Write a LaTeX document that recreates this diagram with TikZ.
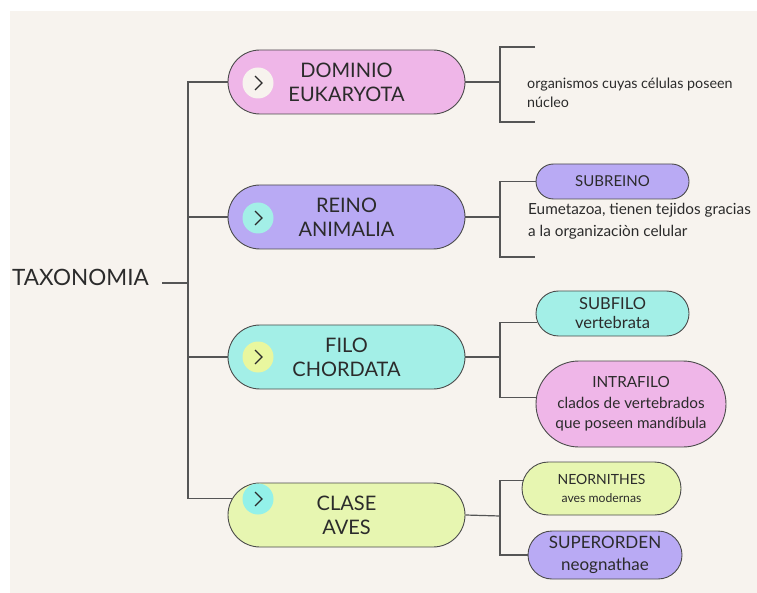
\documentclass[tikz,border=0pt]{standalone}
\usepackage{fontspec}
\setmainfont{Lato}
\usetikzlibrary{shapes.misc}
\definecolor{paper}{HTML}{F7F3EE}
\definecolor{pinkfill}{HTML}{EFB6E8}
\definecolor{lilac}{HTML}{B9AAF4}
\definecolor{aqua}{HTML}{A3EFE7}
\definecolor{lime}{HTML}{E7F6B1}
\definecolor{ink}{HTML}{2B2B2B}
\definecolor{linegray}{HTML}{555555}

\begin{document}
\begin{tikzpicture}[x=1pt,y=-1pt,
	pill/.style={rounded rectangle, draw=ink!85, line width=0.9pt, inner sep=0pt, align=center, text=ink},
	rank/.style={pill, minimum width=237pt, minimum height=64pt, font=\fontsize{20}{24}\selectfont},
	knob/.style={circle, minimum size=31pt, inner sep=0pt},
	chev/.style={draw=ink, line width=1.1pt, line join=miter},
	wire/.style={draw=linegray, line width=1.2pt},
	note/.style={anchor=west, align=left, text=ink, inner sep=0pt}]
		\useasboundingbox (0,0) rectangle (757,593);
		\fill[white] (0,0) rectangle (757,593);
		\fill[paper] (10,11) rectangle (757,593);
		% main ranks
		\node[font=\fontsize{22.5}{26}\selectfont, text=ink, anchor=west, inner sep=0pt] (taxon) at (12,277) {TAXONOMIA};
		\node[rank, fill=pinkfill] (dominio) at (346.5,82) {DOMINIO\\EUKARYOTA};
		\node[rank, fill=lilac] (reino) at (346.5,217) {REINO\\ANIMALIA};
		\node[rank, fill=aqua] (filo) at (346.5,357) {FILO\\CHORDATA};
		\node[rank, fill=lime] (clase) at (346.5,515) {CLASE\\AVES};
		\node[knob, fill=paper] (k1) at (258,83) {};
		\node[knob, fill=aqua] (k2) at (258,218) {};
		\node[knob, fill=lime!90!yellow] (k3) at (258,357) {};
		\node[knob, fill=aqua!90!cyan] (k4) at (258,499) {};
		\foreach \k in {k1,k2,k3,k4}
			\draw[chev] ([shift={(-3,-7)}]\k.center) -- ([shift={(4,0)}]\k.center) -- ([shift={(-3,7)}]\k.center);
		% spine
		\coordinate (stub) at (162,283);
		\coordinate (spine) at (188,283);
		\draw[wire] (stub) -- (spine);
		\draw[wire] (dominio.west) -- (dominio.west -| spine) -- (clase.172 -| spine) -- (clase.172);
		\draw[wire] (reino.west -| spine) -- (reino.west);
		\draw[wire] (filo.west -| spine) -- (filo.west);
		% dominio
		\coordinate (dspine) at (500,82);
		\coordinate (dhead) at (535,47);
		\coordinate (dfoot) at (535,122);
		\draw[wire] (dominio.east) -- (dspine);
		\draw[wire] (dhead) -- (dhead -| dspine) -- (dfoot -| dspine) -- (dfoot);
		\node[note, font=\fontsize{14.3}{19}\selectfont] (dnote) at (527,92.5) {organismos cuyas células poseen\\núcleo};
		% reino
		\node[pill, fill=lilac, minimum width=153pt, minimum height=35pt, font=\fontsize{15}{19}\selectfont] (subreino) at (612.5,181.5) {SUBREINO};
		\coordinate (rspine) at (500,217);
		\coordinate (rfoot) at (535,257);
		\draw[wire] (reino.east) -- (rspine);
		\draw[wire] (subreino.west) -- (subreino.west -| rspine) -- (rfoot -| rspine) -- (rfoot);
		\node[note, font=\fontsize{15.3}{22}\selectfont] (rnote) at (528,221) {Eumetazoa, tienen tejidos gracias\\a la organizaciòn celular};
		% filo
		\node[pill, fill=aqua, minimum width=153pt, minimum height=45pt, font=\fontsize{16.5}{19}\selectfont] (subfilo) at (612.5,313.5) {SUBFILO\\vertebrata};
		\node[pill, fill=pinkfill, minimum width=190pt, minimum height=86pt, font=\fontsize{15.3}{20.5}\selectfont] (intrafilo) at (631,404) {INTRAFILO\\clados de vertebrados\\que poseen mandíbula};
		\coordinate (fspine) at (500,357);
		\draw[wire] (filo.east) -- (fspine);
		\draw[wire] (subfilo.187) -- (subfilo.187 -| fspine) -- (intrafilo.176 -| fspine) -- (intrafilo.176);
		% clase
		\node[pill, fill=lime, minimum width=159pt, minimum height=53pt, font=\fontsize{14}{18}\selectfont] (neornithes) at (601.5,488.5) {NEORNITHES\\{\fontsize{12.2}{18}\selectfont aves modernas}};
		\node[pill, fill=lilac, minimum width=154pt, minimum height=48pt, font=\fontsize{17}{22}\selectfont] (superorden) at (605,555) {SUPERORDEN\\neognathae};
		\coordinate (cspine) at (500,516);
		\draw[wire] (clase.east) -- (cspine);
		\draw[wire] (neornithes.174) -- (neornithes.174 -| cspine) -- (superorden.west -| cspine) -- (superorden.west);
	\end{tikzpicture}
\end{document}
